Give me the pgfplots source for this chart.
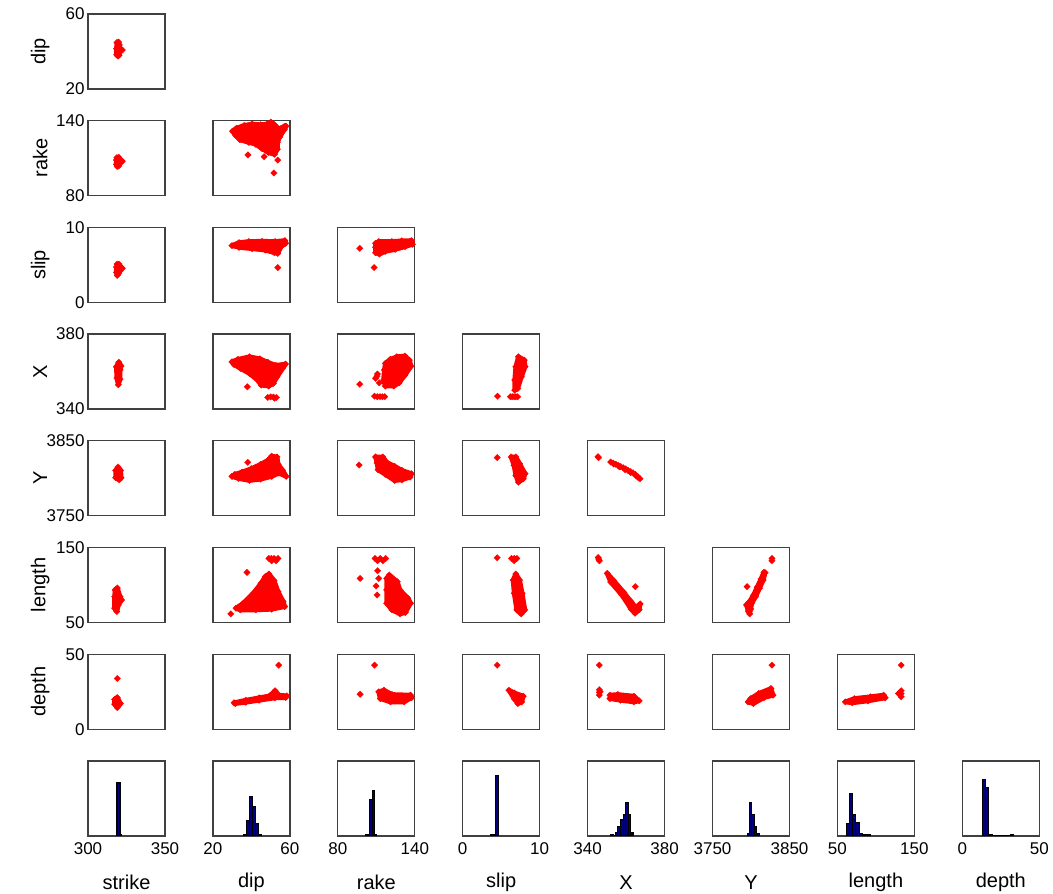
\documentclass[border=0pt]{standalone}
\usepackage{fontspec}
\setmainfont{Liberation Sans}
\usepackage{pgfplots}
\pgfplotsset{compat=1.18}
\definecolor{hnavy}{rgb}{0,0,0.5}
\pgfplotsset{
 panel/.style={scale only axis, width=77pt, height=75pt, anchor=south west, clip=false,
   axis line style={black!75, line width=1.3pt},
   xtick=\empty, ytick=\empty, major tick length=0pt,
   tick label style={font=\fontsize{17}{20}\selectfont},
   label style={font=\fontsize{20}{23}\selectfont},
   /pgf/number format/assume math mode=true,
   /pgf/number format/1000 sep={},
   scaled ticks=false,
   ylabel style={at={(axis description cs:-0.62,0.5)}, anchor=center},
   xlabel style={at={(axis description cs:0.5,-0.62)}, anchor=center},
   xticklabel style={yshift=-3pt},
 },
 blob/.style={draw=red, fill=red, line width=4.8pt, line join=round, mark=square*, mark size=2.3pt, mark options={rotate=45, line width=0.2pt, fill=red, draw=red}},
 pts/.style={only marks, mark=square*, mark size=2.3pt, mark options={rotate=45, fill=red, draw=red, line width=0.2pt}},
 hist/.style={ybar interval, fill=hnavy, draw=black, line width=1.1pt},
}
\begin{document}
\begin{tikzpicture}
\useasboundingbox (0,0) rectangle (1053pt,894pt);
% ---------- row dip ----------
\begin{axis}[panel, at={(88pt,805pt)}, xmin=300,xmax=350,ymin=20,ymax=60, ytick={20,60}, ylabel={dip}]
\addplot[blob] coordinates {(318.8,44.8) (319.8,45) (320.4,43.5) (320.6,41.5) (322.3,40.8) (320.6,39.8) (320.2,38) (319.4,37.6) (318.6,38.3) (318.5,41.5)} -- cycle;
\end{axis}
% ---------- row rake ----------
\begin{axis}[panel, at={(88pt,698.3pt)}, xmin=300,xmax=350,ymin=80,ymax=140, ytick={80,140}, ylabel={rake}]
\addplot[blob] coordinates {(318.8,110.4) (320,110.6) (320.8,108.5) (322.3,107.6) (320.8,106) (320,103.8) (319,103.4) (318.4,105) (318.4,108.5)} -- cycle;
\end{axis}
\begin{axis}[panel, at={(212.9pt,698.3pt)}, xmin=20,xmax=60,ymin=80,ymax=140]
\addplot[blob] coordinates {(30.2,131.6) (32.3,134.0) (36.3,136.2) (40.4,137.3) (44.7,136.7) (48.1,137.3) (50.1,138.9) (52.0,136.7) (54.0,133.5) (57.1,135.4) (58.0,135.7) (57.1,132.9) (54.7,127.0) (53.5,122.6) (53.5,117.2) (52.0,113.1) (48.9,114.5) (45.5,117.7) (42.1,121.3) (38.7,122.6) (34.0,124.8) (31.9,128.1)} -- cycle;
\addplot[pts] coordinates {(38.2,112.6) (46.6,111.2) (53.7,108.5) (51.7,98.2)};
\end{axis}
% ---------- row slip ----------
\begin{axis}[panel, at={(88pt,591.6pt)}, xmin=300,xmax=350,ymin=0,ymax=10, ytick={0,10}, ylabel={slip}]
\addplot[blob] coordinates {(318.9,5.1) (320.2,5.1) (320.8,4.8) (322.3,4.55) (320.8,4.2) (320,3.9) (319,3.6) (318.5,4.0) (318.5,4.7)} -- cycle;
\end{axis}
\begin{axis}[panel, at={(212.9pt,591.6pt)}, xmin=20,xmax=60,ymin=0,ymax=10]
\addplot[blob] coordinates {(29.9,7.57) (33.6,7.97) (38.7,8.11) (45.5,8.15) (52.3,8.11) (57.4,8.24) (57.8,7.88) (55.4,7.43) (53.7,6.53) (52.0,6.62) (47.2,6.98) (40.4,7.16) (33.6,7.34)} -- cycle;
\addplot[pts] coordinates {(53.7,4.64)};
\end{axis}
\begin{axis}[panel, at={(337.8pt,591.6pt)}, xmin=80,xmax=140,ymin=0,ymax=10]
\addplot[blob] coordinates {(109.4,7.88) (111.9,8.11) (122.1,8.11) (129.8,8.20) (137.4,8.24) (138.2,7.75) (132.3,7.43) (124.7,7.07) (117.0,6.80) (112.4,6.44) (109.4,6.62) (109.4,7.34)} -- cycle;
\addplot[pts] coordinates {(97.1,7.21) (108.3,4.64)};
\end{axis}
% ---------- row X ----------
\begin{axis}[panel, at={(88pt,484.9pt)}, xmin=300,xmax=350,ymin=340,ymax=380, ytick={340,380}, ylabel={X}]
\addplot[blob] coordinates {(320,365) (321.5,363) (320.8,361) (320.8,356) (319.7,353) (318.8,356.5) (318.4,362.6)} -- cycle;
\end{axis}
\begin{axis}[panel, at={(212.9pt,484.9pt)}, xmin=20,xmax=60,ymin=340,ymax=380]
\addplot[blob] coordinates {(29.9,365.2) (33.0,366.5) (39.0,367.9) (44.4,366.8) (48.6,364.9) (52.8,363.3) (57.7,364.0) (56.2,361.7) (53.3,357.2) (51.4,353.7) (49.0,352.3) (45.1,352.8) (43.2,355.5) (39.0,359.0) (34.3,361.7) (31.0,363.8)} -- cycle;
\addplot[pts] coordinates {(37.9,351.9) (48.5,346.2) (50,346.5) (51.4,346.4) (53.0,346.2) (52,345.8)};
\end{axis}
\begin{axis}[panel, at={(337.8pt,484.9pt)}, xmin=80,xmax=140,ymin=340,ymax=380]
\addplot[blob] coordinates {(117.1,364.4) (120.9,366.5) (126.0,367.9) (132.3,368.3) (135.7,366.1) (137.1,362.9) (132.3,358.1) (127.7,354.0) (123.7,352.3) (117.1,352.3) (115.7,355.5) (116.3,360.8)} -- cycle;
\addplot[pts] coordinates {(110.9,358.7) (109.4,356.4) (112.3,354.0) (110.5,357.5) (97.1,353.3) (108.6,346.9) (110.8,346.6) (112.9,346.6) (114.8,346.6) (116.6,346.6)};
\end{axis}
\begin{axis}[panel, at={(462.7pt,484.9pt)}, xmin=0,xmax=10,ymin=340,ymax=380]
\addplot[blob] coordinates {(7.24,367.9) (8.0,366.1) (8.1,362.6) (7.62,357.2) (7.14,351.0) (6.76,350.1) (6.76,355.5) (6.9,362.6)} -- cycle;
\addplot[pts] coordinates {(6.19,346.6) (6.43,346.6) (6.67,346.6) (6.9,346.6) (7.14,346.6) (4.52,346.9)};
\end{axis}
% ---------- row Y ----------
\begin{axis}[panel, at={(88pt,378.2pt)}, xmin=300,xmax=350,ymin=3750,ymax=3850, ytick={3750,3850}, ylabel={Y}]
\addplot[blob] coordinates {(319.5,3815) (321.2,3810.5) (321.5,3800.7) (320.2,3798) (318.0,3800.7) (318.0,3810.5)} -- cycle;
\end{axis}
\begin{axis}[panel, at={(212.9pt,378.2pt)}, xmin=20,xmax=60,ymin=3750,ymax=3850]
\addplot[blob] coordinates {(29.9,3802.5) (33.3,3799.8) (39.0,3797.1) (44.8,3798.9) (50.5,3802.5) (54.3,3807) (58.1,3802.5) (56.2,3810.5) (53.9,3818.6) (53.3,3828.5) (50.5,3829.4) (48.6,3824) (44.8,3818.6) (40,3812.8) (35.2,3808.3) (31.4,3805.2)} -- cycle;
\addplot[pts] coordinates {(38.1,3821.3)};
\end{axis}
\begin{axis}[panel, at={(337.8pt,378.2pt)}, xmin=80,xmax=140,ymin=3750,ymax=3850]
\addplot[blob] coordinates {(109.4,3828.5) (115.1,3828.5) (118.0,3821.3) (124.3,3815.9) (130.0,3810.5) (137.4,3806.1) (136.3,3801.6) (130.0,3798) (124.3,3797.1) (117.1,3805.2) (111.4,3811.4) (110.6,3820.4)} -- cycle;
\addplot[pts] coordinates {(96.6,3817.7)};
\end{axis}
\begin{axis}[panel, at={(462.7pt,378.2pt)}, xmin=0,xmax=10,ymin=3750,ymax=3850]
\addplot[blob] coordinates {(6.29,3828.5) (6.9,3828.5) (7.38,3819.5) (8.1,3806.1) (7.86,3799.3) (7.24,3794.8) (6.9,3803.8) (6.67,3817.3)} -- cycle;
\addplot[pts] coordinates {(4.48,3827.6)};
\end{axis}
\begin{axis}[panel, at={(587.6pt,378.2pt)}, xmin=340,xmax=380,ymin=3750,ymax=3850]
\addplot[pts] coordinates {(345.7,3827.6) (345.4,3828.8) (352.0,3821.7) (353.3,3820.2) (354.6,3818.8) (355.9,3817.2) (357.2,3815.6) (358.5,3814) (359.8,3812.5) (361.0,3810.5) (362.3,3809) (363.6,3807.3) (364.8,3805.2) (366.0,3802.5) (367.2,3799.5) (366.5,3800.5) (353.6,3819.0) (356.5,3815.4) (359.4,3811.5) (362.4,3807.6) (365.2,3803.0)};
\end{axis}
% ---------- row length ----------
\begin{axis}[panel, at={(88pt,271.5pt)}, xmin=300,xmax=350,ymin=50,ymax=150, ytick={50,150}, ylabel={length}]
\addplot[blob] coordinates {(319,96) (320.8,84.5) (321.8,80) (319.7,73.4) (318.7,64.6) (317.3,69) (317.3,84.5) (317.6,93.4)} -- cycle;
\end{axis}
\begin{axis}[panel, at={(212.9pt,271.5pt)}, xmin=20,xmax=60,ymin=50,ymax=150]
\addplot[blob] coordinates {(49.1,114.6) (51.8,105.8) (53.8,91.2) (56.5,77.9) (57.3,71.2) (50.5,67.7) (42.3,66.8) (34.2,66.8) (32.0,69) (35.8,75.7) (41.0,88.9) (45.0,102.2) (47.2,111.1)} -- cycle;
\addplot[pts] coordinates {(49.1,135.4) (50.4,135.4) (51.8,135.4) (53.8,135.4) (50.5,132.3) (52.8,132.3) (37.7,116.8) (29.3,61.5)};
\end{axis}
\begin{axis}[panel, at={(337.8pt,271.5pt)}, xmin=80,xmax=140,ymin=50,ymax=150]
\addplot[blob] coordinates {(120.1,113.3) (126.3,104.4) (128.4,93.4) (134.6,82.3) (136.7,75.7) (132.6,63.3) (128.4,61.5) (122.2,66.8) (118.1,75.7) (118.1,93.4) (118.1,108.8)} -- cycle;
\addplot[pts] coordinates {(109,135.4) (113.1,135.4) (117.3,135.4) (111,132.3) (115.2,132.3) (111,119) (111.9,108.8) (109.8,98.7) (110.6,86.7) (97.4,108.8)};
\end{axis}
\begin{axis}[panel, at={(462.7pt,271.5pt)}, xmin=0,xmax=10,ymin=50,ymax=150]
\addplot[blob] coordinates {(6.9,114.6) (7.38,106.6) (7.72,88.9) (8.07,66.8) (7.59,61.5) (7.03,66.8) (6.69,88.9) (6.55,106.6)} -- cycle;
\addplot[pts] coordinates {(6.34,135.4) (6.69,135.4) (7.03,135.4) (6.69,132.3) (4.48,136.3)};
\end{axis}
\begin{axis}[panel, at={(587.6pt,271.5pt)}, xmin=340,xmax=380,ymin=50,ymax=150]
\addplot[blob] coordinates {(350.2,115.5) (353.5,106) (358.8,90) (362.5,78) (365,70) (367.3,74.8) (366.8,67) (364.6,62.4) (362.6,68) (357.7,87) (352,104)} -- cycle;
\addplot[pts] coordinates {(345.5,136.7) (346.1,132.3) (345.8,134.5) (364.8,97.8)};
\end{axis}
\begin{axis}[panel, at={(712.5pt,271.5pt)}, xmin=3750,xmax=3850,ymin=50,ymax=150]
\addplot[blob] coordinates {(3818.3,116.4) (3815.8,106.6) (3811,95.6) (3806,84.5) (3801,75.7) (3799.5,68) (3798.3,61.5) (3796.5,65) (3794.1,73.4) (3797.5,77) (3803,86) (3808,97) (3813,108) (3816.8,117)} -- cycle;
\addplot[pts] coordinates {(3827.2,135.4) (3827.2,132.3) (3794.8,97.8)};
\end{axis}
% ---------- row depth ----------
\begin{axis}[panel, at={(88pt,164.8pt)}, xmin=300,xmax=350,ymin=0,ymax=50, ytick={0,50}, ylabel={depth}]
\addplot[blob] coordinates {(319,21.1) (321.1,17.1) (319,14.4) (317.3,16.7) (317.3,19.8)} -- cycle;
\addplot[pts] coordinates {(319,33.8)};
\end{axis}
\begin{axis}[panel, at={(212.9pt,164.8pt)}, xmin=20,xmax=60,ymin=0,ymax=50]
\addplot[blob] coordinates {(31.0,17.6) (37.1,19.3) (44,20.9) (49.5,22.2) (52.3,25.6) (54.2,22.7) (58.4,22.2) (57.8,21.1) (52.3,20.9) (44,19.3) (37.1,18) (31.6,17.1)} -- cycle;
\addplot[pts] coordinates {(54.2,42.7)};
\end{axis}
\begin{axis}[panel, at={(337.8pt,164.8pt)}, xmin=80,xmax=140,ymin=0,ymax=50]
\addplot[blob] coordinates {(111.9,24.9) (116,26) (122.2,23.1) (136.7,22.7) (137.5,21.1) (131.7,18.2) (121,18.2) (113.1,20.4)} -- cycle;
\addplot[pts] coordinates {(108.6,42.7) (97.4,23.3)};
\end{axis}
\begin{axis}[panel, at={(462.7pt,164.8pt)}, xmin=0,xmax=10,ymin=0,ymax=50]
\addplot[blob] coordinates {(6.0,26) (6.69,24.2) (7.86,22) (7.66,18.2) (7.17,17.1) (6.69,20.4)} -- cycle;
\addplot[pts] coordinates {(4.48,42.7)};
\end{axis}
\begin{axis}[panel, at={(587.6pt,164.8pt)}, xmin=340,xmax=380,ymin=0,ymax=50]
\addplot[blob] coordinates {(351.6,22.7) (355.7,23.1) (364,22) (366.8,18.9) (364,18.2) (357.1,19.3) (351.6,20.4)} -- cycle;
\addplot[pts] coordinates {(346.1,42.7) (346.1,26.3) (346.1,24.5) (346.1,22.7) (346.5,25)};
\end{axis}
\begin{axis}[panel, at={(712.5pt,164.8pt)}, xmin=3750,xmax=3850,ymin=0,ymax=50]
\addplot[blob] coordinates {(3796.2,18.2) (3799.7,20.4) (3810,23.8) (3825.9,27.1) (3828.6,22.7) (3816.9,21.1) (3803.1,17.1)} -- cycle;
\addplot[pts] coordinates {(3827.2,42.7)};
\end{axis}
\begin{axis}[panel, at={(837.4pt,164.8pt)}, xmin=50,xmax=150,ymin=0,ymax=50]
\addplot[blob] coordinates {(60.3,18.2) (72.1,20.4) (92.8,21.6) (110,22.7) (112.1,20.9) (90,18.9) (69.3,17.6)} -- cycle;
\addplot[pts] coordinates {(132.8,42.7) (132.8,25.6) (132.8,21.6) (129.3,23.8) (132.8,23.6)};
\end{axis}
% ---------- histograms ----------
\begin{axis}[panel, at={(88pt,58.1pt)}, xmin=300,xmax=350,ymin=0,ymax=100, xtick={300,350}, xlabel={strike}]
\addplot[hist] coordinates {(318.8,71) (320.8,2) (322,0)};
\end{axis}
\begin{axis}[panel, at={(212.9pt,58.1pt)}, xmin=20,xmax=60,ymin=0,ymax=100, xtick={20,60}, xlabel={dip}]
\addplot[hist] coordinates {(36.1,2) (37.6,20) (39.2,53) (40.8,39) (42.0,16) (43.6,2) (45.2,0)};
\end{axis}
\begin{axis}[panel, at={(337.8pt,58.1pt)}, xmin=80,xmax=140,ymin=0,ymax=100, xtick={80,140}, xlabel={rake}]
\addplot[hist] coordinates {(102,2) (104.8,48) (106.7,61) (108.6,2) (110.5,0)};
\end{axis}
\begin{axis}[panel, at={(462.7pt,58.1pt)}, xmin=0,xmax=10,ymin=0,ymax=100, xtick={0,10}, xlabel={slip}]
\addplot[hist] coordinates {(3.67,2) (4.14,1) (4.30,81) (4.69,0)};
\end{axis}
\begin{axis}[panel, at={(587.6pt,58.1pt)}, xmin=340,xmax=380,ymin=0,ymax=100, xtick={340,380}, xlabel={X}]
\addplot[hist] coordinates {(352,1.5) (353.2,0.5) (354.5,4) (355.7,13) (357.3,22) (358.6,28) (359.8,45) (361.1,28) (362.4,4) (363.6,0)};
\end{axis}
\begin{axis}[panel, at={(712.5pt,58.1pt)}, xmin=3750,xmax=3850,ymin=0,ymax=100, xtick={3750,3850}, xlabel={Y}]
\addplot[hist] coordinates {(3794.9,3) (3798,45) (3801.2,29) (3804.3,13) (3807.5,3.5) (3810.6,0)};
\end{axis}
\begin{axis}[panel, at={(837.4pt,58.1pt)}, xmin=50,xmax=150,ymin=0,ymax=100, xtick={50,150}, xlabel={length}]
\addplot[hist] coordinates {(61.8,16) (65.7,57) (69.7,28) (73.6,18) (78.3,3.5) (83.1,2) (87.8,2) (93.3,0)};
\end{axis}
\begin{axis}[panel, at={(962.3pt,58.1pt)}, xmin=0,xmax=50,ymin=0,ymax=100, xtick={0,50}, xlabel={depth}]
\addplot[hist] coordinates {(12.9,75) (14.8,64) (17.2,2) (19.5,1) (21.5,0) (31.3,2) (33.2,0)};
\end{axis}
\end{tikzpicture}
\end{document}
